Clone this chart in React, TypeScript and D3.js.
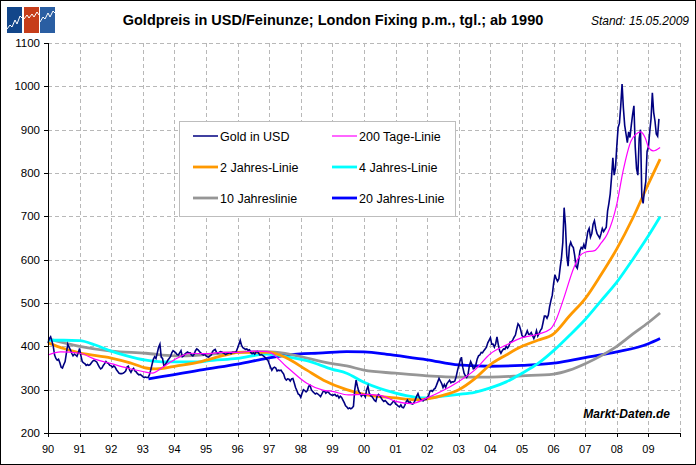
import React from "react";
import * as d3 from "d3";

// ---------- DATA ----------
const TITLE = "Goldpreis in USD/Feinunze; London Fixing p.m., tgl.; ab 1990";
const STAND = "Stand: 15.05.2009";
const WATERMARK = "Markt-Daten.de";

const X_TICK_LABELS = ["90","91","92","93","94","95","96","97","98","99","00","01","02","03","04","05","06","07","08","09"];
const X_START = 1990;
const X_END = 2010;
const Y_TICKS = [200, 300, 400, 500, 600, 700, 800, 900, 1000, 1100];

// Gold price USD, semi-monthly readings (24 per year) starting Jan 1990
const GOLD_START = 1990;
const GOLD_PER_YEAR = 24;
const goldPrice = [
  // 1990
  408, 418, 422, 412, 400, 380, 372, 368, 370, 362, 352, 350, 358, 365, 385, 405, 398, 392, 384, 378, 382, 380, 377, 385,
  // 1991
  395, 378, 365, 362, 360, 356, 358, 356, 358, 362, 366, 368, 366, 364, 358, 352, 348, 350, 356, 360, 365, 362, 360, 356,
  // 1992
  355, 352, 355, 352, 346, 342, 338, 337, 337, 338, 340, 343, 352, 354, 345, 340, 346, 349, 343, 341, 337, 334, 335, 333,
  // 1993
  330, 328, 329, 328, 328, 334, 345, 358, 370, 376, 372, 385, 398, 405, 375, 372, 355, 358, 362, 368, 372, 376, 385, 390,
  // 1994
  388, 385, 381, 380, 385, 390, 376, 378, 382, 385, 387, 385, 385, 380, 378, 382, 390, 394, 392, 388, 385, 382, 380, 382,
  // 1995
  378, 376, 375, 378, 380, 388, 391, 393, 386, 384, 386, 388, 387, 385, 383, 381, 383, 384, 385, 383, 386, 386, 386, 388,
  // 1996
  396, 405, 414, 402, 397, 395, 393, 394, 391, 392, 386, 383, 385, 382, 387, 388, 384, 380, 381, 379, 377, 374, 370, 368,
  // 1997
  360, 352, 345, 350, 352, 350, 343, 345, 344, 345, 340, 336, 326, 322, 325, 324, 320, 325, 326, 316, 305, 298, 290, 288,
  // 1998
  282, 292, 300, 298, 295, 298, 308, 310, 300, 296, 293, 290, 292, 290, 287, 284, 290, 296, 297, 292, 295, 294, 290, 288,
  // 1999
  287, 288, 289, 285, 287, 281, 285, 282, 276, 270, 263, 260, 256, 258, 256, 258, 262, 300, 322, 308, 296, 292, 285, 289,
  // 2000
  288, 283, 300, 308, 292, 286, 284, 280, 275, 273, 285, 289, 286, 281, 276, 273, 275, 272, 268, 266, 265, 268, 272, 274,
  // 2001
  267, 265, 262, 260, 265, 259, 258, 264, 272, 276, 270, 272, 268, 267, 270, 277, 285, 291, 282, 278, 275, 274, 278, 277,
  // 2002
  282, 285, 296, 298, 296, 301, 303, 310, 318, 326, 320, 314, 305, 312, 305, 314, 318, 322, 316, 318, 318, 320, 330, 344,
  // 2003
  356, 367, 375, 352, 338, 332, 328, 335, 355, 365, 358, 348, 350, 358, 371, 378, 380, 386, 385, 390, 394, 398, 408, 414,
  // 2004
  420, 405, 405, 398, 406, 422, 404, 390, 384, 390, 394, 393, 400, 396, 400, 410, 410, 415, 421, 426, 440, 452, 448, 438,
  // 2005
  425, 422, 422, 428, 436, 428, 428, 432, 425, 418, 425, 436, 424, 430, 437, 441, 455, 470, 470, 465, 472, 492, 506, 518,
  // 2006
  545, 565, 556, 550, 556, 582, 605, 640, 720, 680, 610, 585, 630, 640, 632, 628, 610, 585, 580, 598, 620, 628, 625, 635,
  // 2007
  625, 645, 665, 672, 652, 660, 682, 690, 672, 660, 655, 650, 660, 672, 665, 670, 675, 712, 730, 752, 790, 835, 795, 812,
  // 2008
  862, 905, 915, 955, 1005, 950, 910, 890, 870, 895, 882, 910, 935, 955, 860, 810, 795, 880, 900, 745, 730, 760, 780, 850,
  // 2009 (to 15.05.)
  860, 895, 925, 985, 940, 920, 890, 885, 925,
];

// Moving averages: [year, USD]
const ma200Days: [number, number][] = [
  [1990.0, 380], [1990.4, 387], [1991.0, 384], [1991.5, 370], [1992.0, 360], [1992.5, 350], [1993.0, 342],
  [1993.3, 338], [1993.65, 353], [1994.07, 372], [1994.5, 384], [1995.0, 383], [1995.5, 386], [1996.0, 386],
  [1996.5, 389], [1996.95, 388], [1997.55, 353], [1998.19, 315], [1998.7, 299], [1999.0, 296], [1999.5, 288],
  [2000.0, 289], [2000.5, 287], [2001.0, 273], [2001.5, 268], [2002.0, 281], [2002.5, 298], [2003.0, 319],
  [2003.5, 345], [2004.0, 383], [2004.5, 403], [2005.0, 420], [2005.5, 428], [2005.9, 440], [2006.1, 465],
  [2006.3, 506], [2006.65, 583], [2006.8, 606], [2007.0, 617], [2007.3, 621], [2007.5, 638], [2007.7, 659],
  [2008.0, 728], [2008.2, 805], [2008.45, 874], [2008.6, 889], [2008.75, 895], [2008.9, 881], [2009.0, 860],
  [2009.15, 851], [2009.37, 859],
];
const ma2Years: [number, number][] = [
  [1990.0, 408], [1990.5, 395], [1991.0, 385], [1992.0, 373], [1992.6, 362], [1993.1, 350], [1993.4, 348],
  [1993.7, 350], [1994.0, 354], [1994.8, 364], [1995.0, 368], [1995.8, 383], [1996.0, 386], [1997.0, 386],
  [1997.55, 373], [1998.19, 345], [1998.72, 322], [1999.45, 300], [2000.0, 289], [2001.0, 281], [2001.6, 277],
  [2002.0, 279], [2002.5, 287], [2003.0, 300], [2003.5, 325], [2004.0, 358], [2004.5, 380], [2005.0, 400],
  [2005.5, 414], [2006.0, 429], [2006.5, 470], [2007.0, 510], [2007.5, 565], [2008.0, 625], [2008.5, 695],
  [2009.0, 775], [2009.37, 832],
];
const ma4Years: [number, number][] = [
  [1990.0, 414], [1990.5, 414], [1991.0, 413], [1991.5, 403], [1992.0, 389], [1992.5, 378], [1993.1, 368],
  [1993.6, 364], [1994.0, 364], [1994.8, 364], [1995.0, 366], [1996.0, 372], [1996.92, 382], [1997.55, 376],
  [1998.19, 367], [1999.0, 347], [1999.45, 338], [2000.0, 317], [2001.0, 292], [2001.6, 283], [2002.0, 281],
  [2002.5, 285], [2003.0, 289], [2003.5, 294], [2004.0, 304], [2004.5, 318], [2005.0, 338], [2005.5, 360],
  [2006.0, 390], [2006.5, 425], [2007.0, 462], [2007.5, 505], [2008.0, 548], [2008.5, 600], [2009.0, 655],
  [2009.37, 699],
];
const ma10Years: [number, number][] = [
  [1990.0, 417], [1991.0, 400], [1992.0, 389], [1993.1, 384], [1994.0, 378], [1994.8, 380], [1995.5, 384],
  [1996.0, 386], [1996.92, 388], [1997.5, 384], [1998.19, 373], [1999.0, 360], [1999.45, 355], [2000.0, 345],
  [2001.0, 338], [2002.0, 332], [2003.0, 329], [2004.0, 329], [2005.0, 332], [2006.0, 336], [2006.5, 345],
  [2007.0, 360], [2007.5, 378], [2008.0, 400], [2008.5, 428], [2009.0, 455], [2009.37, 477],
];
const ma20Years: [number, number][] = [
  [1993.18, 325], [1994.5, 341], [1994.8, 345], [1996.0, 359], [1996.92, 372], [1997.55, 380], [1998.7, 385],
  [1999.45, 388], [2000.0, 387], [2000.5, 384], [2001.0, 379], [2002.0, 369], [2003.0, 357], [2004.0, 354],
  [2005.0, 356], [2006.0, 361], [2006.5, 367], [2007.0, 374], [2008.0, 387], [2009.0, 406], [2009.37, 418],
];

const LEGEND_LABELS = ["Gold in USD", "200 Tage-Linie", "2 Jahres-Linie", "4 Jahres-Linie", "10 Jahreslinie", "20 Jahres-Linie"];

// ---------- STYLE / LAYOUT ----------
const W = 696;
const H = 465;
const PLOT = { left: 48, right: 680, top: 43, bottom: 433 };
const FONT = "'Liberation Sans', Arial, sans-serif";
const COLORS = {
  gold: "#000080",
  ma200: "#FF00FF",
  ma2: "#FF9900",
  ma4: "#00FFFF",
  ma10: "#969696",
  ma20: "#0000FF",
  grid: "#B8B8B8",
};

export default function App() {
  const x = d3.scaleLinear().domain([X_START, X_END]).range([PLOT.left, PLOT.right]);
  const y = d3.scaleLinear().domain([200, 1100]).range([PLOT.bottom, PLOT.top]);

  const goldPts: [number, number][] = goldPrice.map((v, i) => [GOLD_START + i / GOLD_PER_YEAR, v]);
  const lineLin = d3.line<[number, number]>().x((d) => x(d[0])).y((d) => y(d[1]));
  const lineSmooth = d3
    .line<[number, number]>()
    .x((d) => x(d[0]))
    .y((d) => y(d[1]))
    .curve(d3.curveMonotoneX);

  const yearTicks = d3.range(X_START, X_END + 1);

  const series = [
    { key: "ma20", data: ma20Years, color: COLORS.ma20, w: 2.8 },
    { key: "ma10", data: ma10Years, color: COLORS.ma10, w: 2.8 },
    { key: "ma4", data: ma4Years, color: COLORS.ma4, w: 2.8 },
    { key: "ma2", data: ma2Years, color: COLORS.ma2, w: 2.8 },
  ];

  const legendItems = [
    { label: LEGEND_LABELS[0], color: COLORS.gold, w: 1.5 },
    { label: LEGEND_LABELS[1], color: COLORS.ma200, w: 1.2 },
    { label: LEGEND_LABELS[2], color: COLORS.ma2, w: 2.8 },
    { label: LEGEND_LABELS[3], color: COLORS.ma4, w: 2.8 },
    { label: LEGEND_LABELS[4], color: COLORS.ma10, w: 2.8 },
    { label: LEGEND_LABELS[5], color: COLORS.ma20, w: 2.8 },
  ];
  const legend = { x: 179, y: 121, w: 276, h: 95 };

  return (
    <svg
      width={W}
      height={H}
      style={{ position: "absolute", left: 0, top: 0, background: "#fff" }}
      fontFamily={FONT}
    >
      <rect x={0.5} y={0.5} width={W - 1} height={H - 1} fill="#fff" stroke="#000" strokeWidth={1} />

      {/* logo */}
      <g>
        <rect x={7} y={7} width={15} height={26} fill="#12468A" />
        <rect x={24} y={7} width={15} height={26} fill="#C63D1A" />
        <rect x={40} y={7} width={15} height={26} fill="#2A5EA2" />
        <polyline points="7,29 10,25 12,27 15,20 17,24 20,16 22,18" fill="none" stroke="#fff" strokeWidth={1} />
        <polyline points="24,19 27,15 29,18 32,14 34,17 37,12 39,15" fill="none" stroke="#fff" strokeWidth={1} />
        <polyline points="40,22 43,17 45,19 48,13 50,17 53,11 55,13" fill="none" stroke="#fff" strokeWidth={1} />
      </g>

      {/* title */}
      <text x={333} y={25} textAnchor="middle" fontSize={14.5} fontWeight="bold" fill="#000">
        {TITLE}
      </text>
      <text x={689} y={25} textAnchor="end" fontSize={12} fontStyle="italic" fill="#000">
        {STAND}
      </text>

      {/* grid */}
      <g stroke={COLORS.grid} strokeWidth={1} strokeDasharray="4,3" fill="none">
        {Y_TICKS.filter((t) => t > 200).map((t) => (
          <line key={"h" + t} x1={PLOT.left} x2={PLOT.right} y1={Math.round(y(t)) + 0.5} y2={Math.round(y(t)) + 0.5} />
        ))}
        {yearTicks.filter((t) => t > X_START).map((t) => (
          <line key={"v" + t} x1={Math.round(x(t)) + 0.5} x2={Math.round(x(t)) + 0.5} y1={PLOT.top} y2={PLOT.bottom} />
        ))}
      </g>

      {/* moving averages */}
      {series.map((s) => (
        <path key={s.key} d={lineSmooth(s.data) || ""} fill="none" stroke={s.color} strokeWidth={s.w} strokeLinejoin="round" />
      ))}

      {/* gold */}
      <path d={lineLin(goldPts) || ""} fill="none" stroke={COLORS.gold} strokeWidth={1.6} strokeLinejoin="miter" />

      {/* 200 days */}
      <path d={lineSmooth(ma200Days) || ""} fill="none" stroke={COLORS.ma200} strokeWidth={1.2} />

      {/* axes */}
      <g stroke="#000" strokeWidth={1} shapeRendering="crispEdges">
        <line x1={PLOT.left + 0.5} x2={PLOT.left + 0.5} y1={PLOT.top} y2={PLOT.bottom + 1} />
        <line x1={PLOT.left} x2={PLOT.right + 1} y1={PLOT.bottom + 0.5} y2={PLOT.bottom + 0.5} />
        {Y_TICKS.map((t) => (
          <line key={"yt" + t} x1={PLOT.left - 4} x2={PLOT.left} y1={Math.round(y(t)) + 0.5} y2={Math.round(y(t)) + 0.5} />
        ))}
        {yearTicks.map((t) => (
          <line key={"xt" + t} x1={Math.round(x(t)) + 0.5} x2={Math.round(x(t)) + 0.5} y1={PLOT.bottom} y2={PLOT.bottom + 4} />
        ))}
      </g>
      {Y_TICKS.map((t) => (
        <text key={"yl" + t} x={40} y={y(t) + 4} textAnchor="end" fontSize={11.5} fill="#000">
          {t}
        </text>
      ))}
      {X_TICK_LABELS.map((lab, i) => (
        <text key={"xl" + lab} x={x(X_START + i)} y={453} textAnchor="middle" fontSize={11} fill="#000">
          {lab}
        </text>
      ))}

      {/* legend */}
      <rect x={legend.x + 0.5} y={legend.y + 0.5} width={legend.w} height={legend.h} fill="#fff" stroke="#BDBDBD" strokeWidth={1} />
      {legendItems.map((it, i) => {
        const col = i % 2;
        const row = Math.floor(i / 2);
        const lx = col === 0 ? 193 : 332;
        const ly = 136 + row * 31;
        return (
          <g key={it.label}>
            <line x1={lx} x2={lx + 25} y1={ly} y2={ly} stroke={it.color} strokeWidth={it.w} />
            <text x={lx + 27} y={ly + 4.5} fontSize={12.5} fill="#000">
              {it.label}
            </text>
          </g>
        );
      })}

      {/* watermark */}
      <text x={670} y={418} textAnchor="end" fontSize={12} fontWeight="bold" fontStyle="italic" fill="#000">
        {WATERMARK}
      </text>
    </svg>
  );
}
